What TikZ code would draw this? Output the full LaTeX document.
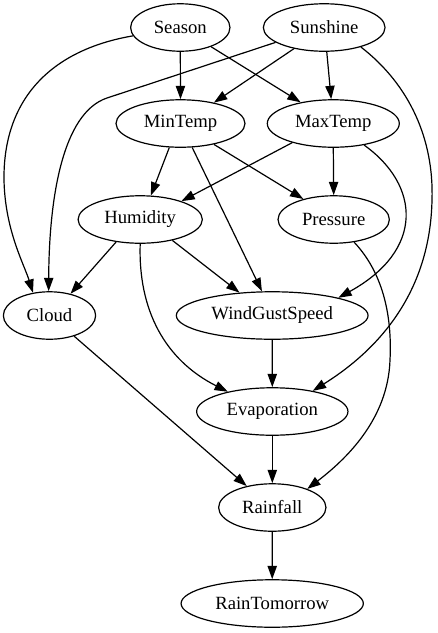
\documentclass[tikz,border=0pt]{standalone}
\usepackage{fontspec}
\setmainfont{Liberation Serif}
\usetikzlibrary{arrows.meta,shapes.geometric}
\begin{document}
\begin{tikzpicture}[x=0.75pt,y=-0.75pt,
  vnode/.style={ellipse,draw,line width=0.9pt,minimum height=35.6pt,inner sep=0pt,
    font=\fontsize{14}{16}\selectfont},
  edge/.style={-{Triangle[length=10pt,width=7pt]},line width=0.9pt}]
\useasboundingbox (0,0) rectangle (437,633);
\node[vnode,minimum width=74.5pt] (S) at (180.3,27.5) {Season};
\node[vnode,minimum width=91.3pt] (Su) at (324.2,27.5) {Sunshine};
\node[vnode,minimum width=96.75pt] (Mi) at (180.5,123.5) {MinTemp};
\node[vnode,minimum width=99pt] (Ma) at (333.3,123.5) {MaxTemp};
\node[vnode,minimum width=93.2pt] (H) at (140.2,219.5) {Humidity};
\node[vnode,minimum width=83.5pt] (P) at (333.7,219.5) {Pressure};
\node[vnode,minimum width=69.2pt] (C) at (49.5,315.5) {Cloud};
\node[vnode,minimum width=143.8pt] (W) at (272.2,315.5) {WindGustSpeed};
\node[vnode,minimum width=113.5pt] (E) at (272.3,411.5) {Evaporation};
\node[vnode,minimum width=80.5pt] (R) at (272.3,507.5) {Rainfall};
\node[vnode,minimum width=136.7pt] (T) at (272.2,603.5) {RainTomorrow};
% edges
\draw[edge] (S.south) -- (Mi.north);
\draw[edge] (S.-32) -- (Ma.147.7);
\draw[edge] (Su.215.5) -- (Mi.32.7);
\draw[edge] (Su.-84) -- (Ma.95);
\draw[edge] (S.190) .. controls (50,50) and (3,100) .. (4,180)
  .. controls (5,230) and (24,264) .. (C.126);
\draw[edge] (Su.197) -- (107,98) .. controls (62,113) and (49,200) .. (C.92);
\draw[edge] (Su.-28) .. controls (410,85) and (434,140) .. (432,200)
  .. controls (430,300) and (370,355) .. (E.27);
\draw[edge] (Mi.245.9) -- (H.66.9);
\draw[edge] (Mi.-32) -- (P.146.8);
\draw[edge] (Mi.-64.4) -- (W.113.9);
\draw[edge] (Ma.205.3) -- (H.24.7);
\draw[edge] (Ma.south) -- (P.north);
\draw[edge] (Ma.-35.2) .. controls (420,185) and (425,250) .. (W.15.3);
\draw[edge] (H.223.1) -- (C.46.1);
\draw[edge] (H.-33.1) -- (W.145.2);
\draw[edge] (H.south) .. controls (138,310) and (165,360) .. (E.156.2);
\draw[edge] (P.-48.7) .. controls (385,275) and (392,320) .. (390,360)
  .. controls (388,420) and (345,460) .. (R.28);
\draw[edge] (C.-40.6) -- (R.140.8);
\draw[edge] (W.south) -- (E.north);
\draw[edge] (E.south) -- (R.north);
\draw[edge] (R.south) -- (T.north);
\end{tikzpicture}
\end{document}
